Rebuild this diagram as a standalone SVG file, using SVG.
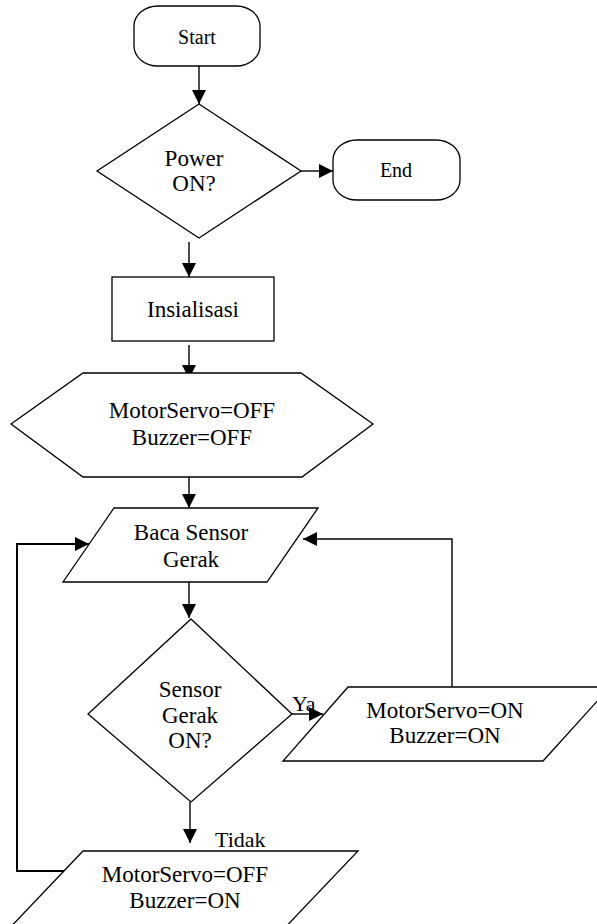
<svg xmlns="http://www.w3.org/2000/svg" width="597" height="924" viewBox="0 0 597 924">
<style>
.s{fill:#fff;stroke:#000;stroke-width:1.3}
text{font-family:'Liberation Serif','Times New Roman',Times,'DejaVu Serif',serif;fill:#000}
.t{font-size:23px;text-anchor:middle}
.ts{font-size:20px;text-anchor:middle}
.lb{font-size:22px}
.c{fill:none;stroke:#000;stroke-width:1.4}
.cb{fill:none;stroke:#000;stroke-width:2}
</style>
<defs>
<marker id="ah" markerUnits="userSpaceOnUse" markerWidth="15" markerHeight="15" refX="14" refY="7" orient="auto">
<path d="M0,0 L14,7 L0,14 z" fill="#000"/>
</marker>
</defs>
<rect width="597" height="924" fill="#fff"/>
<g id="connectors">
<path class="c" d="M199,66 L199,104" marker-end="url(#ah)"/>
<path class="c" d="M301,171 L333,171" marker-end="url(#ah)"/>
<path class="c" d="M189,242 L189,277" marker-end="url(#ah)"/>
<path class="c" d="M189,345 L189,379" marker-end="url(#ah)"/>
<path class="c" d="M189,477 L189,508" marker-end="url(#ah)"/>
<path class="c" d="M189,582 L189,618" marker-end="url(#ah)"/>
<path class="c" d="M292,714 L323,714" marker-end="url(#ah)"/>
<path class="c" d="M452,687 L452,539 L303,539" marker-end="url(#ah)"/>
<path class="c" d="M190,802 L190,843" marker-end="url(#ah)"/>
<path class="cb" d="M74,871 L17,871 L17,544 L89,544" marker-end="url(#ah)"/>
</g>
<g id="start">
<rect class="s" x="134" y="6" width="126" height="60" rx="24" ry="20"/>
<text class="ts" x="197" y="44">Start</text>
</g>
<g id="power">
<polygon class="s" points="199,104 301,171 199,238 97,171"/>
<text class="t" x="194" y="166">Power</text>
<text class="t" x="194" y="191">ON?</text>
</g>
<g id="end">
<rect class="s" x="333" y="140" width="127" height="60" rx="24" ry="20"/>
<text class="ts" x="396" y="177">End</text>
</g>
<g id="insialisasi">
<rect class="s" x="112" y="277" width="162" height="64"/>
<text class="t" x="193" y="317">Insialisasi</text>
</g>
<g id="init">
<polygon class="s" points="11,424 83,373 301,373 373,424 302,477 83,477"/>
<text class="t" x="192" y="418">MotorServo=OFF</text>
<text class="t" x="192" y="445">Buzzer=OFF</text>
</g>
<g id="baca">
<polygon class="s" points="114,508 318,508 267,582 63,582"/>
<text class="t" x="191" y="540">Baca Sensor</text>
<text class="t" x="191" y="567">Gerak</text>
</g>
<g id="sensor">
<polygon class="s" points="191,619 292,714 191,802 88,714"/>
<text class="t" x="190" y="697">Sensor</text>
<text class="t" x="190" y="723">Gerak</text>
<text class="t" x="190" y="748">ON?</text>
</g>
<g id="on">
<polygon class="s" points="348,687 610,687 543,761 283,761"/>
<text class="t" x="445" y="718">MotorServo=ON</text>
<text class="t" x="445" y="743">Buzzer=ON</text>
</g>
<g id="off">
<polygon class="s" points="83,851 358,851 278,935 3,935"/>
<text class="t" x="185" y="882">MotorServo=OFF</text>
<text class="t" x="185" y="908">Buzzer=ON</text>
</g>
<g id="labels">
<text class="lb" x="292" y="711">Ya</text>
<text class="lb" x="215" y="847">Tidak</text>
</g>
</svg>
